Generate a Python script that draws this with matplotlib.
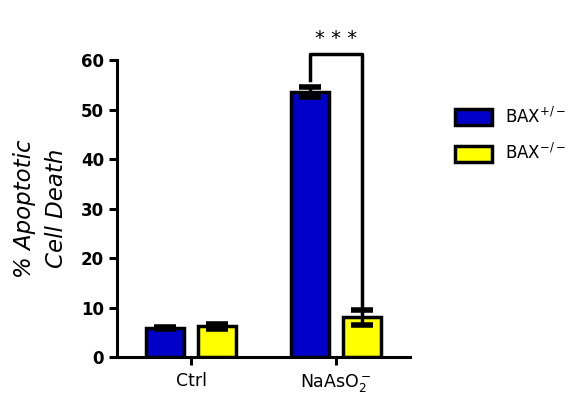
import numpy as np
import matplotlib.pyplot as plt
from matplotlib.patches import Patch

# data
groups = ['Ctrl', 'NaAsO$_2^-$']
het_vals = [5.8, 53.5]
het_err = [0.2, 1.0]
ko_vals = [6.2, 8.0]
ko_err = [0.5, 1.5]

fig = plt.figure(figsize=(5.77, 3.98), dpi=100)
ax = fig.add_axes([0.203, 0.103, 0.508, 0.746])

x = np.arange(len(groups))
w = 0.26
off = 0.18
ekw = dict(ecolor='black', elinewidth=2.5, capsize=8, capthick=4)
ax.bar(x - off, het_vals, w, color='#0000c8', edgecolor='black', linewidth=2.5,
       yerr=het_err, error_kw=ekw, zorder=2)
ax.bar(x + off, ko_vals, w, color='#ffff00', edgecolor='black', linewidth=2.5,
       yerr=ko_err, error_kw=ekw, zorder=2)

# significance bracket
x1, x2 = 1 - off, 1 + off
top = 61.2
ax.plot([x1, x1, x2, x2], [56.0, top, top, ko_vals[1] + ko_err[1]],
        color='black', lw=2.5, clip_on=False, solid_joinstyle='round')
ax.text(1, top + 1.2, '* * *', ha='center', va='bottom', fontsize=14)

ax.set_xlim(-0.51, 1.51)
ax.set_ylim(0, 60)
ax.set_yticks([0, 10, 20, 30, 40, 50, 60])
ax.set_xticks(x)
ax.set_xticklabels(groups)
for sp in ['top', 'right']:
    ax.spines[sp].set_visible(False)
for sp in ['left', 'bottom']:
    ax.spines[sp].set_linewidth(2.2)
ax.tick_params(width=2.2, length=6, labelsize=12)
for lab in ax.get_yticklabels():
    lab.set_fontweight('bold')
for lab in ax.get_xticklabels():
    lab.set_fontsize(12.5)
ax.tick_params(axis='x', pad=5)
ax.set_ylabel('% Apoptotic\nCell Death', fontsize=16.5, style='italic',
              labelpad=9, linespacing=1.5)

handles = [Patch(facecolor='#0000c8', edgecolor='black', linewidth=2.5),
           Patch(facecolor='#ffff00', edgecolor='black', linewidth=2.5)]
fig.legend(handles, ['BAX$^{+/-}$', 'BAX$^{-/-}$'], loc='upper left',
           bbox_to_anchor=(0.763, 0.77), frameon=False, fontsize=12,
           handlelength=2.2, handleheight=1.1, labelspacing=1.0, handletextpad=0.8)

fig.savefig('out.png', dpi=100)
